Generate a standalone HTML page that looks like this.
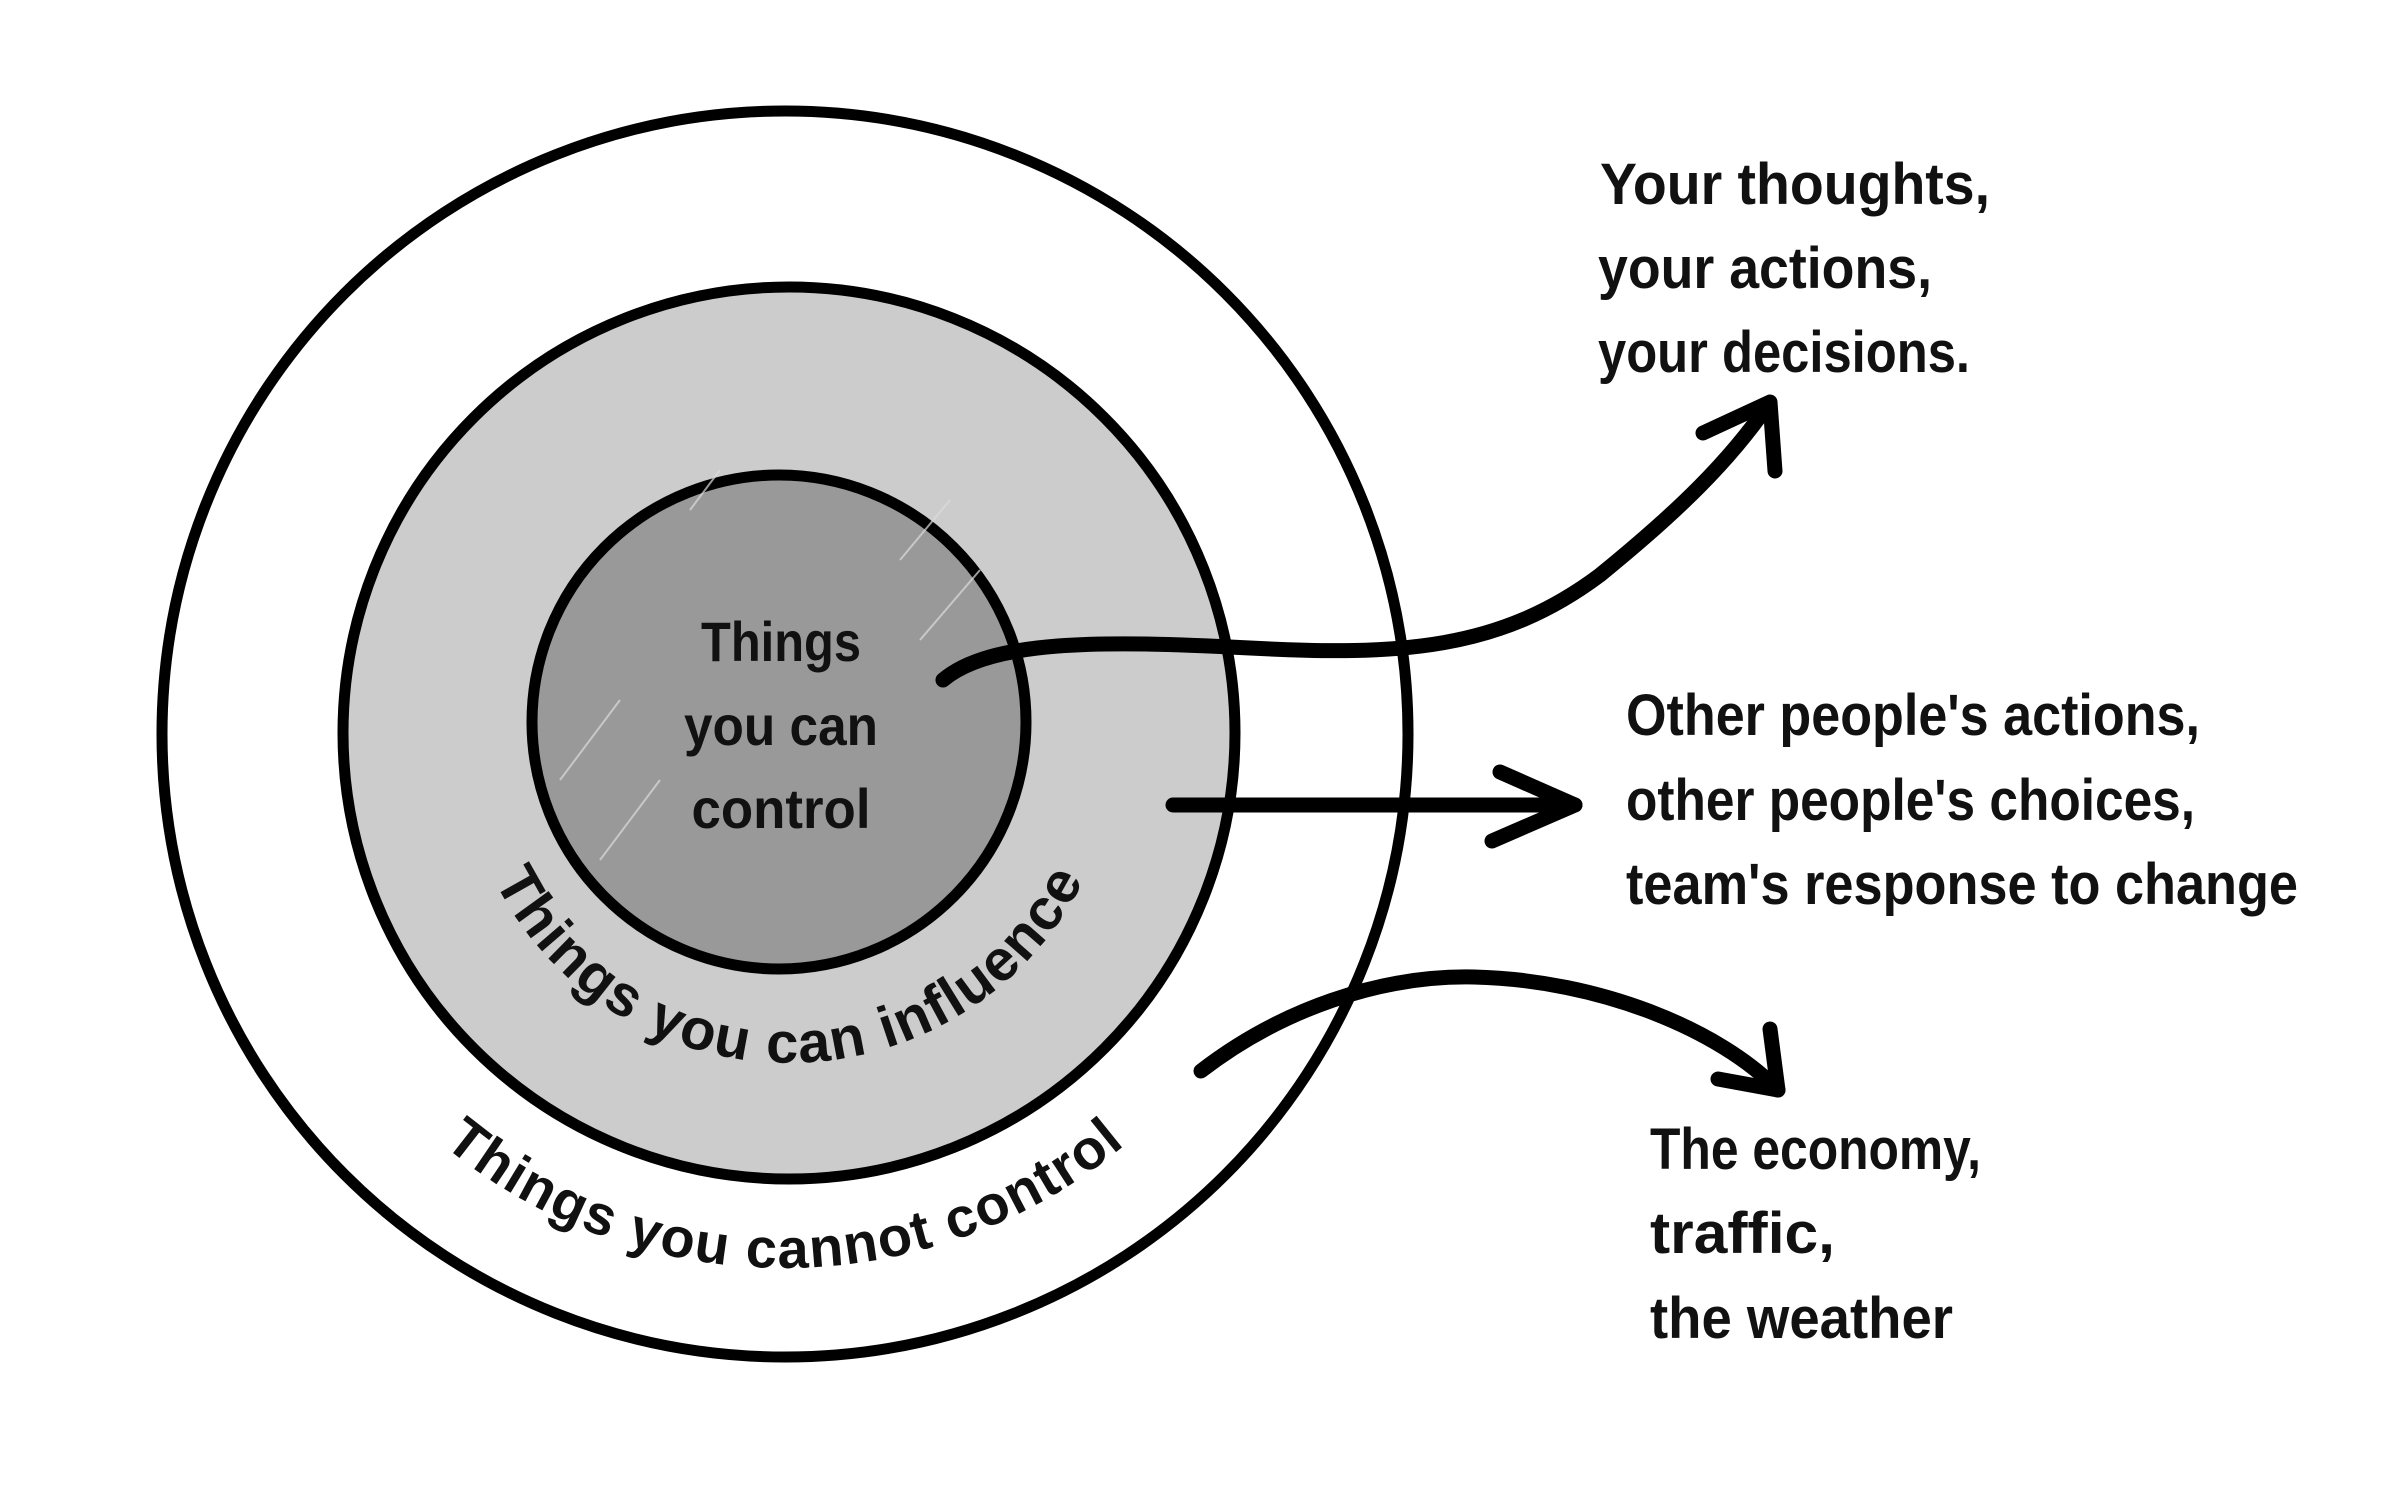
<!DOCTYPE html>
<html><head><meta charset="utf-8"><style>
html,body{margin:0;padding:0;background:#fff;}
svg{display:block;}
text{font-family:"Liberation Sans Narrow","Liberation Sans",sans-serif;font-weight:bold;fill:#111;}
</style></head><body>
<svg width="2400" height="1485" viewBox="0 0 2400 1485" xmlns="http://www.w3.org/2000/svg">
<defs>
<path id="arcIn" d="M 460 734 A 327 327 0 0 0 1118 734"/>
<path id="arcOut" d="M 250 734 A 534 534 0 0 0 1318 734"/>
</defs>
<circle cx="785" cy="734" r="623" fill="#fff" stroke="#000" stroke-width="11"/>
<circle cx="789" cy="733" r="446" fill="#cccccc" stroke="#000" stroke-width="11"/>
<circle cx="779" cy="722" r="247" fill="#999999" stroke="#000" stroke-width="11"/>
<g stroke="#ddd" stroke-width="2" opacity="0.7">
<line x1="560" y1="780" x2="620" y2="700"/><line x1="600" y1="860" x2="660" y2="780"/>
<line x1="900" y1="560" x2="950" y2="500"/><line x1="920" y1="640" x2="980" y2="570"/>
<line x1="690" y1="510" x2="720" y2="470"/>
</g>
<text x="781" y="661" font-size="56" text-anchor="middle" textLength="160" lengthAdjust="spacingAndGlyphs">Things</text>
<text x="781" y="745" font-size="56" text-anchor="middle" textLength="194" lengthAdjust="spacingAndGlyphs">you can</text>
<text x="781" y="828" font-size="56" text-anchor="middle" textLength="179" lengthAdjust="spacingAndGlyphs">control</text>
<text font-size="58"><textPath href="#arcIn" startOffset="50%" text-anchor="middle" textLength="730" lengthAdjust="spacing">Things you can influence</textPath></text>
<text font-size="56"><textPath href="#arcOut" startOffset="50%" text-anchor="middle" textLength="740" lengthAdjust="spacing">Things you cannot control</textPath></text>
<g fill="none" stroke="#000" stroke-width="15" stroke-linecap="round" stroke-linejoin="round">
<path d="M943 680 C990 640, 1100 640, 1250 648 S1500 650, 1600 575 C1680 510, 1730 460, 1768 405"/>
<path d="M1703 433 L1770 402 L1775 471"/>
<path d="M1173 805 L1575 805"/>
<path d="M1500 772 L1575 805 L1492 841"/>
<path d="M1201 1071 C1280 1010, 1380 975, 1474 977 C1600 980, 1720 1030, 1778 1090"/>
<path d="M1770 1029 L1778 1090 L1718 1079"/>
</g>
<text x="1600" y="204" font-size="58" textLength="390" lengthAdjust="spacingAndGlyphs">Your thoughts,</text>
<text x="1598" y="288" font-size="58" textLength="334" lengthAdjust="spacingAndGlyphs">your actions,</text>
<text x="1598" y="372" font-size="58" textLength="372" lengthAdjust="spacingAndGlyphs">your decisions.</text>
<text x="1626" y="735" font-size="58" textLength="574" lengthAdjust="spacingAndGlyphs">Other people's actions,</text>
<text x="1626" y="820" font-size="58" textLength="569" lengthAdjust="spacingAndGlyphs">other people's choices,</text>
<text x="1626" y="904" font-size="58" textLength="672" lengthAdjust="spacingAndGlyphs">team's response to change</text>
<text x="1650" y="1169" font-size="58" textLength="331" lengthAdjust="spacingAndGlyphs">The economy,</text>
<text x="1650" y="1253" font-size="58" textLength="185" lengthAdjust="spacingAndGlyphs">traffic,</text>
<text x="1650" y="1338" font-size="58" textLength="303" lengthAdjust="spacingAndGlyphs">the weather</text>
</svg>
</body></html>
